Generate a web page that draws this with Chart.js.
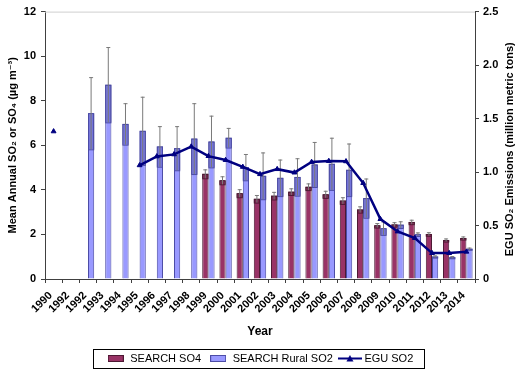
<!DOCTYPE html>
<html>
<head>
<meta charset="utf-8">
<script src="https://cdn.jsdelivr.net/npm/chart.js@4/dist/chart.umd.min.js"></script>
<style>
  html, body { margin: 0; padding: 0; background: #fff; }
  #wrap { width: 520px; height: 370px; position: relative; }
</style>
</head>
<body>
<div id="wrap"><canvas id="chart"></canvas></div>
<script>
// SEARCH network SO4 / rural SO2 means with EGU SO2 emissions on a second axis.

// ── Data ─────────────────────────────────────────────────────────────────────
const YEARS = ['1990', '1992', '1992', '1993', '1994', '1995', '1996', '1997', '1998',
  '1999', '2000', '2001', '2002', '2003', '2004', '2005', '2006', '2007', '2008',
  '2009', '2010', '2011', '2012', '2013', '2014'];

const SO4 = [null, null, null, null, null, null, null, null, null,
  4.72, 4.43, 3.85, 3.60, 3.74, 3.92, 4.14, 3.80, 3.52, 3.12,
  2.41, 2.45, 2.56, 2.02, 1.75, 1.84];
const SO4_ERR = [null, null, null, null, null, null, null, null, null,
  0.20, 0.18, 0.18, 0.17, 0.17, 0.15, 0.15, 0.16, 0.15, 0.14,
  0.10, 0.10, 0.10, 0.08, 0.07, 0.07];

const RURAL_SO2 = [null, null, 7.44, 8.72, 6.96, 6.65, 5.95, 5.87, 6.30,
  6.17, 6.34, 5.02, 4.63, 4.54, 4.58, 5.14, 5.17, 4.90, 3.63,
  2.28, 2.44, 2.01, 1.01, 0.98, 1.36];
const RURAL_SO2_ERR = [null, null, 1.62, 1.69, 0.93, 1.53, 0.91, 0.99, 1.59,
  1.16, 0.44, 0.59, 1.05, 0.82, 0.84, 1.01, 1.17, 1.18, 0.88,
  0.30, 0.15, 0.08, 0.05, 0.05, 0.05];

const EGU_SO2 = [1.38, null, null, null, null, 1.063, 1.146, 1.165, 1.238,
  1.149, 1.112, 1.048, 0.980, 1.027, 0.995, 1.094, 1.103, 1.100, 0.897,
  0.560, 0.444, 0.383, 0.242, 0.242, 0.255];

const LEFT_TICKS = { min: 0, max: 12, step: 2 };
const RIGHT_TICKS = { min: 0, max: 2.5, step: 0.5 };

// ── Look ─────────────────────────────────────────────────────────────────────
const FONT = "'Liberation Sans', 'DejaVu Sans', Arial, sans-serif";
const AXIS = '#404040';
const C_SO4 = '#993366', C_SO4_EDGE = '#4d1933';
const C_SO2 = '#9999ff', C_SO2_EDGE = '#4c4ca6';
const C_EGU = '#000080';

function legendIcon(w, h, draw) {
  const c = document.createElement('canvas');
  c.width = w;
  c.height = h;
  draw(c.getContext('2d'), w, h);
  return c;
}

const ICONS = [
  legendIcon(16, 7, (g, w, h) => {
    g.fillStyle = C_SO4; g.fillRect(0, 0, w, h);
    g.strokeStyle = C_SO4_EDGE; g.strokeRect(0.5, 0.5, w - 1, h - 1);
  }),
  legendIcon(16, 7, (g, w, h) => {
    g.fillStyle = C_SO2; g.fillRect(0, 0, w, h);
    g.strokeStyle = C_SO2_EDGE; g.strokeRect(0.5, 0.5, w - 1, h - 1);
  }),
  legendIcon(24, 9, (g, w, h) => {
    g.strokeStyle = C_EGU; g.lineWidth = 2;
    g.beginPath(); g.moveTo(0, h / 2); g.lineTo(w, h / 2); g.stroke();
    g.fillStyle = C_EGU;
    g.beginPath(); g.moveTo(w / 2, 1); g.lineTo(w / 2 + 3.5, h - 1.5); g.lineTo(w / 2 - 3.5, h - 1.5); g.closePath(); g.fill();
  })
];

// ── Plugins ──────────────────────────────────────────────────────────────────
// Error whiskers with the darker band Excel leaves inside each bar.
const errorBars = {
  id: 'errorBars',
  afterDatasetDraw(chart, args) {
    const ds = chart.data.datasets[args.index];
    if (!ds.errors) return;
    const ctx = chart.ctx;
    const yScale = chart.scales[ds.yAxisID];
    const meta = chart.getDatasetMeta(args.index);
    ctx.save();
    meta.data.forEach((bar, i) => {
      const v = ds.data[i], e = ds.errors[i];
      if (v == null || !e) return;
      const { x, width } = bar.getProps(['x', 'width'], true);
      const yHi = yScale.getPixelForValue(v + e);
      const yV = yScale.getPixelForValue(v);
      const yLo = yScale.getPixelForValue(v - e);
      ctx.fillStyle = ds.bandColor;
      ctx.fillRect(x - width / 2, yV, width, yLo - yV);
      ctx.strokeStyle = ds.borderColor;
      ctx.lineWidth = 1;
      ctx.strokeRect(x - width / 2 + 0.5, yV + 0.5, width - 1, yLo - yV);
      ctx.strokeStyle = '#7a7a7a';
      ctx.beginPath();
      ctx.moveTo(x, yLo); ctx.lineTo(x, yHi);
      ctx.moveTo(x - 2, yHi + 0.5); ctx.lineTo(x + 2, yHi + 0.5);
      ctx.stroke();
    });
    ctx.restore();
  }
};

// Frame bits: top border, legend box, right-hand title (reads bottom-to-top).
const frame = {
  id: 'frame',
  afterLayout(chart) {
    // legend sits a little lower than Chart.js puts it
    chart.legend.top += 4;
    chart.legend.bottom += 4;
  },
  afterDraw(chart) {
    const { ctx, chartArea: a, legend } = chart;
    ctx.save();
    ctx.strokeStyle = '#cfcfcf';
    ctx.beginPath(); ctx.moveTo(a.left, a.top + 0.5); ctx.lineTo(a.right, a.top + 0.5); ctx.stroke();

    const boxes = legend.legendHitBoxes;
    if (boxes && boxes.length) {
      const l = Math.min(...boxes.map(b => b.left)) - 14;
      const r = Math.max(...boxes.map(b => b.left + b.width)) + 10;
      const cy = boxes[0].top + boxes[0].height / 2;
      ctx.strokeStyle = '#000';
      ctx.strokeRect(Math.round(l) + 0.5, Math.round(cy - 10) + 0.5, Math.round(r - l), 19);
    }

    ctx.fillStyle = '#000';
    ctx.font = `bold 11px ${FONT}`;
    ctx.textAlign = 'center';
    ctx.textBaseline = 'middle';
    ctx.translate(510, (a.top + a.bottom) / 2 + 4);
    ctx.rotate(-Math.PI / 2);
    ctx.fillText('EGU SO\u2082 Emissions (million metric tons)', 0, 0);
    ctx.restore();
  }
};

// ── Chart ────────────────────────────────────────────────────────────────────
const tickFont = { family: FONT, size: 11, weight: 'bold' };

new Chart(document.getElementById('chart'), {
  type: 'bar',
  data: {
    labels: YEARS,
    datasets: [
      {
        label: 'SEARCH SO4',
        data: SO4,
        errors: SO4_ERR,
        yAxisID: 'y',
        backgroundColor: C_SO4,
        borderColor: C_SO4_EDGE,
        bandColor: 'rgba(60, 10, 35, 0.35)',
        borderWidth: 1,
        categoryPercentage: 0.72,
        barPercentage: 1.0,
        order: 1
      },
      {
        label: 'SEARCH Rural SO2',
        data: RURAL_SO2,
        errors: RURAL_SO2_ERR,
        yAxisID: 'y',
        backgroundColor: C_SO2,
        borderColor: C_SO2_EDGE,
        bandColor: 'rgba(40, 40, 140, 0.32)',
        borderWidth: 1,
        categoryPercentage: 0.72,
        barPercentage: 1.0,
        order: 1
      },
      {
        type: 'line',
        label: 'EGU SO2',
        data: EGU_SO2,
        yAxisID: 'y2',
        borderColor: C_EGU,
        backgroundColor: C_EGU,
        borderWidth: 2.5,
        pointStyle: 'triangle',
        pointRadius: 2.8,
        pointBorderWidth: 1,
        tension: 0,
        order: 0
      }
    ]
  },
  options: {
    responsive: true,
    maintainAspectRatio: false,
    animation: false,
    layout: { padding: { top: 7, right: 0, bottom: 0, left: 0 } },
    plugins: {
      tooltip: { enabled: false },
      legend: {
        position: 'bottom',
        labels: {
          color: '#000',
          font: { family: FONT, size: 11 },
          usePointStyle: true,
          pointStyleWidth: 18,
          boxHeight: 7,
          padding: 8,
          sort: (a, b) => a.datasetIndex - b.datasetIndex,
          generateLabels: chart => {
            const items = Chart.defaults.plugins.legend.labels.generateLabels(chart);
            items.forEach(it => { it.pointStyle = ICONS[it.datasetIndex]; });
            return items;
          }
        }
      }
    },
    scales: {
      x: {
        grid: { offset: true, drawOnChartArea: false, tickLength: 4, color: AXIS },
        border: { color: AXIS },
        ticks: {
          autoSkip: false,
          minRotation: 45,
          maxRotation: 45,
          labelOffset: -3,
          padding: 6,
          color: '#000',
          font: tickFont
        },
        title: {
          display: true,
          text: 'Year',
          color: '#000',
          font: { family: FONT, size: 12, weight: 'bold' },
          padding: { top: 0, bottom: 2 }
        },
        afterFit: s => { s.height = 62; }
      },
      y: {
        position: 'left',
        min: LEFT_TICKS.min,
        max: LEFT_TICKS.max,
        grid: { drawOnChartArea: false, tickLength: 4, color: AXIS },
        border: { color: AXIS },
        ticks: { stepSize: LEFT_TICKS.step, padding: 5, color: '#000', font: tickFont },
        title: {
          display: true,
          text: 'Mean Annual SO\u2082 or SO\u2084 (\u00b5g m\u207b\u00b3)',
          color: '#000',
          font: { family: FONT, size: 11, weight: 'bold' },
          padding: { top: 6, bottom: 0 }
        },
        afterFit: s => { s.width = 45; }
      },
      y2: {
        position: 'right',
        min: RIGHT_TICKS.min,
        max: RIGHT_TICKS.max,
        grid: { drawOnChartArea: false, tickLength: 4, color: AXIS },
        border: { color: AXIS },
        ticks: { stepSize: RIGHT_TICKS.step, padding: 4, color: '#000', font: tickFont },
        afterFit: s => { s.width = 45; }
      }
    }
  },
  plugins: [errorBars, frame]
});
</script>
</body>
</html>
